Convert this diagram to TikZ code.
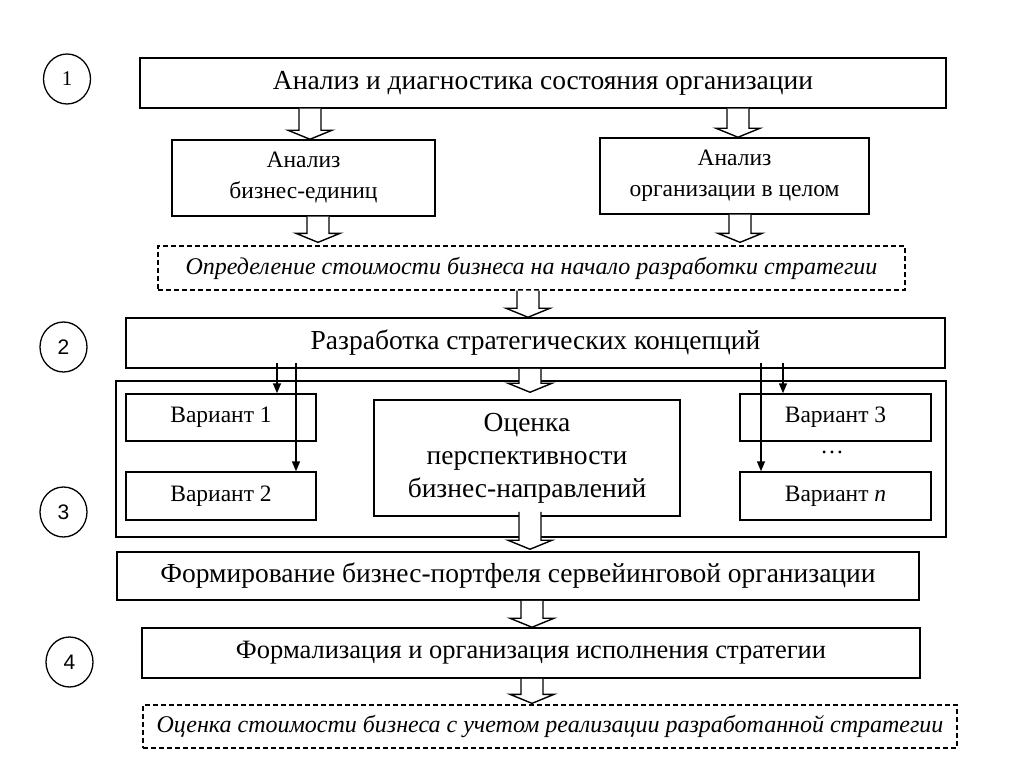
\documentclass[tikz,border=0pt]{standalone}
\usepackage{fontspec}
\setmainfont{Liberation Serif}
\newfontfamily\numsans{Liberation Sans}
\usetikzlibrary{arrows.meta,calc,shapes.geometric}
\tikzset{
  box/.style={draw, line width=1.5pt, inner sep=0pt, align=center, fill=white},
  dbox/.style={box, line width=1.3pt, dash pattern=on 5pt off 3pt},
  num/.style={draw, ellipse, line width=1.3pt, minimum width=47pt, minimum height=50pt, inner sep=0pt, font=\fontsize{21}{24}\selectfont},
  hollow/.style={draw, line width=1.4pt, fill=white, line join=miter},
  tarrow/.style={line width=1.5pt, -{Triangle[length=10pt,width=8pt]}},
  fbig/.style={font=\fontsize{27.5}{33}\selectfont},
  fmid/.style={font=\fontsize{23.5}{31}\selectfont},
  fital/.style={font=\itshape\fontsize{24}{28}\selectfont},
}
\newcommand\hollowarr[2]{\path[hollow] let \p1=#1, \p2=#2 in
  (\x1-11pt,\y1) -- (\x1-11pt,\y2+9pt) -- (\x1-22pt,\y2+9pt) -- (\x1,\y2)
  -- (\x1+22pt,\y2+9pt) -- (\x1+11pt,\y2+9pt) -- (\x1+11pt,\y1);}
\begin{document}
\begin{tikzpicture}[x=1pt,y=-1pt]
\useasboundingbox (0,0) rectangle (1024,767);
\fill[white] (0,0) rectangle (1024,767);
% column coordinates
\coordinate (x310) at (310,0);
\coordinate (x738) at (738,0);
\coordinate (x318) at (318,0);
\coordinate (x740) at (740,0);
\coordinate (x528) at (528,0);
\coordinate (x530) at (530,0);
\coordinate (x532) at (532,0);
\coordinate (x277) at (277,0);
\coordinate (x296) at (296,0);
\coordinate (x783) at (783,0);
\coordinate (x761) at (761,0);
% step numbers
\node[num] (c1) at (67,79) {1};
\node[num] (c2) at (63.5,347) {\numsans 2};
\node[num] (c3) at (63.5,512) {\numsans 3};
\node[num] (c4) at (69.5,662) {\numsans 4};
% outer frame of stage 3
\node[box, minimum width=830pt, minimum height=156pt] (outer) at (531,459) {};
% boxes
\node[box, fbig, minimum width=806pt, minimum height=50pt] (top) at (543,83) {Анализ и диагностика состояния организации};
\node[box, fmid, minimum width=263pt, minimum height=76pt] (a1) at (303.5,178) {Анализ\\бизнес-единиц};
\node[box, fmid, minimum width=269pt, minimum height=76pt] (a2) at (734.5,176) {Анализ\\организации в целом};
\node[dbox, fital, minimum width=747pt, minimum height=44pt] (d1) at (531.5,268) {Определение стоимости бизнеса на начало разработки стратегии};
\node[box, fbig, minimum width=819pt, minimum height=50pt] (conc) at (535.5,343) {Разработка стратегических концепций};
\node[box, fmid, minimum width=190pt, minimum height=47pt] (v1) at (221,417.5) {Вариант 1};
\node[box, fmid, minimum width=190pt, minimum height=48pt] (v2) at (221,496) {Вариант 2};
\node[box, fbig, minimum width=306pt, minimum height=116pt] (est) at (527,458) {Оценка\\перспективности\\бизнес-направлений};
\node[box, fmid, minimum width=191pt, minimum height=47pt] (v3) at (835.5,417.5) {Вариант 3};
\node[box, fmid, minimum width=191pt, minimum height=48pt] (vn) at (835.5,496) {Вариант \textit{n}};
\node[fmid, inner sep=0pt] (dots) at (832,452) {…};
\node[box, fbig, minimum width=802pt, minimum height=48pt] (port) at (518,576) {Формирование бизнес-портфеля сервейинговой организации};
\node[box, font=\fontsize{26.5}{30}\selectfont, minimum width=778pt, minimum height=50pt] (form) at (531,653) {Формализация и организация исполнения стратегии};
\node[dbox, fital, minimum width=814pt, minimum height=43pt] (d2) at (550,726.5) {Оценка стоимости бизнеса с учетом реализации разработанной стратегии};
% hollow arrows
\hollowarr{(top.south -| x310)}{(a1.north -| x310)}
\hollowarr{(top.south -| x738)}{(a2.north -| x738)}
\hollowarr{(a1.south -| x318)}{($(d1.north -| x318)+(0,-3)$)}
\hollowarr{(a2.south -| x740)}{($(d1.north -| x740)+(0,-3)$)}
\hollowarr{(d1.south -| x528)}{(conc.north -| x528)}
\hollowarr{(conc.south -| x530)}{($(est.north -| x530)+(0,-7)$)}
\hollowarr{($(est.south -| x530)+(0,-5)$)}{($(port.north -| x530)+(0,-2)$)}
\hollowarr{(port.south -| x532)}{(form.north -| x532)}
\hollowarr{(form.south -| x532)}{($(d2.north -| x532)+(0,-1)$)}
% thin arrows to the variants
\draw[tarrow] ($(conc.south -| x277)+(0,-6)$) -- (v1.north -| x277);
\draw[tarrow] ($(conc.south -| x296)+(0,-6)$) -- (v2.north -| x296);
\draw[tarrow] ($(conc.south -| x783)+(0,-6)$) -- (v3.north -| x783);
\draw[tarrow] ($(conc.south -| x761)+(0,-6)$) -- (vn.north -| x761);
\end{tikzpicture}
\end{document}
